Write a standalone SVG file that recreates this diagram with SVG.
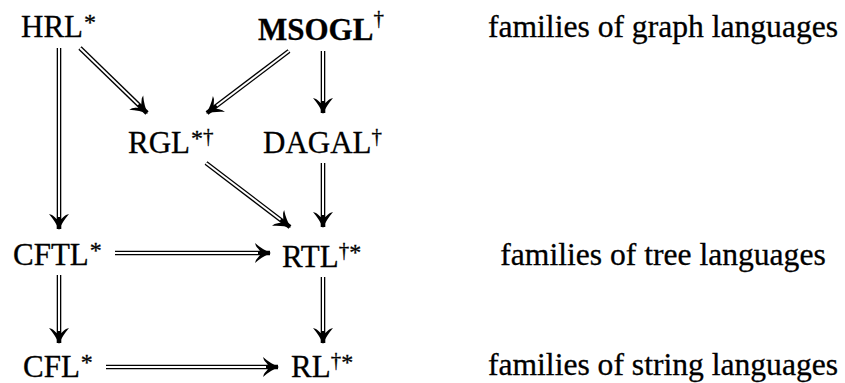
<svg xmlns="http://www.w3.org/2000/svg" width="845" height="383" viewBox="0 0 845 383">
<style>
text{font-family:"Liberation Serif","Times New Roman",serif;fill:#000;stroke:#000;stroke-width:0.3}
.n{font-size:31px}
.b{font-weight:bold}
.s{font-size:21px}
.st{font-size:24px}
.lab{font-size:31.6px;text-anchor:middle}
.o{stroke:#000;stroke-width:4.6;fill:none;marker-end:url(#ah)}
.i{stroke:#fff;stroke-width:2;fill:none}
</style>
<defs>
<marker id="ah" markerUnits="userSpaceOnUse" markerWidth="24" markerHeight="24" viewBox="-20 -12 24 24" refX="0" refY="0" orient="auto">
<path d="M1,0 C-4,-2 -10,-5.5 -15,-10 L-14,-7 C-11,-3 -9,-1.5 -9,0 C-9,1.5 -11,3 -14,7 L-15,10 C-10,5.5 -4,2 1,0 Z" fill="#000"/>
</marker>
</defs>
<rect width="845" height="383" fill="#fff"/>
<g id="connectors">
<g><line class="o" x1="59" y1="48" x2="59" y2="229"/><line class="i" x1="59" y1="48" x2="59" y2="217"/></g>
<g><line class="o" x1="80" y1="48" x2="147" y2="113"/><line class="i" x1="80" y1="48" x2="138.4" y2="104.6"/></g>
<g><line class="o" x1="289" y1="51" x2="207" y2="113"/><line class="i" x1="289" y1="51" x2="216.6" y2="105.8"/></g>
<g><line class="o" x1="323" y1="51" x2="323" y2="113"/><line class="i" x1="323" y1="51" x2="323" y2="101"/></g>
<g><line class="o" x1="206" y1="163" x2="290" y2="227"/><line class="i" x1="206" y1="163" x2="280.5" y2="219.7"/></g>
<g><line class="o" x1="323" y1="163" x2="323" y2="227"/><line class="i" x1="323" y1="163" x2="323" y2="215"/></g>
<g><line class="o" x1="115" y1="253" x2="270" y2="253"/><line class="i" x1="115" y1="253" x2="258" y2="253"/></g>
<g><line class="o" x1="59" y1="275" x2="59" y2="343"/><line class="i" x1="59" y1="275" x2="59" y2="331"/></g>
<g><line class="o" x1="323" y1="277" x2="323" y2="343"/><line class="i" x1="323" y1="277" x2="323" y2="331"/></g>
<g><line class="o" x1="106" y1="367" x2="278" y2="367"/><line class="i" x1="106" y1="367" x2="266" y2="367"/></g>
</g>
<g id="HRL"><text class="n" x="21" y="37">HRL<tspan class="st" dx="1" dy="-7">*</tspan></text></g>
<g id="MSOGL"><text class="n b" x="258" y="40">MSOGL<tspan class="s" font-weight="normal" dy="-15">†</tspan></text></g>
<g id="RGL"><text class="n" x="128" y="153">RGL<tspan class="st" dx="1" dy="-7">*</tspan><tspan class="s" dy="-3">†</tspan></text></g>
<g id="DAGAL"><text class="n" x="263" y="153">DAGAL<tspan class="s" dy="-10">†</tspan></text></g>
<g id="CFTL"><text class="n" x="13" y="265">CFTL<tspan class="st" dx="1" dy="-7">*</tspan></text></g>
<g id="RTL"><text class="n" x="282" y="267">RTL<tspan class="s" dy="-10">†</tspan><tspan class="st" dy="3">*</tspan></text></g>
<g id="CFL"><text class="n" x="23" y="377">CFL<tspan class="st" dx="1" dy="-7">*</tspan></text></g>
<g id="RL"><text class="n" x="291" y="377">RL<tspan class="s" dy="-10">†</tspan><tspan class="st" dy="3">*</tspan></text></g>
<g id="labels">
<text class="lab" x="663" y="37">families of graph languages</text>
<text class="lab" x="663" y="265">families of tree languages</text>
<text class="lab" x="663" y="375">families of string languages</text>
</g>
</svg>
